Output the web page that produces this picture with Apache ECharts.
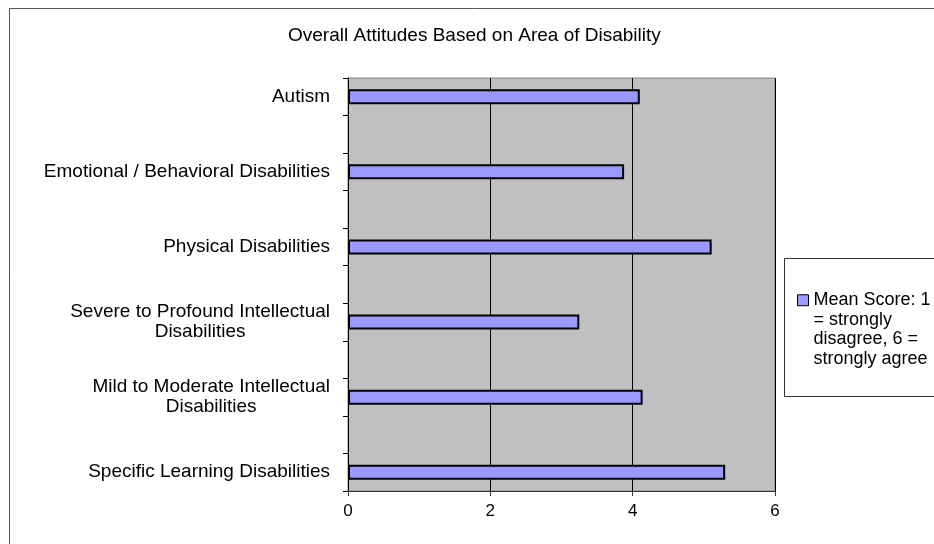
<!DOCTYPE html>
<html>
<head>
<meta charset="utf-8">
<script src="https://cdn.jsdelivr.net/npm/echarts@6/dist/echarts.min.js"></script>
<style>
  html, body { margin: 0; padding: 0; background: #fff; }
  #chart { width: 934px; height: 544px; }
</style>
</head>
<body>
<div id="chart"></div>
<script>
// categories, top to bottom; blank slots sit between the real ones like in the original
const categories = [
  'Autism', '',
  'Emotional / Behavioral Disabilities', '',
  'Physical Disabilities', '',
  'Severe to Profound Intellectual\nDisabilities', '',
  'Mild to Moderate Intellectual\nDisabilities', '',
  'Specific Learning Disabilities'
]
const meanScores = [4.1, null, 3.88, null, 5.11, null, 3.25, null, 4.14, null, 5.3]
const xTicks = [0, 2, 4, 6]
const seriesName = 'Mean Score: 1 = strongly disagree, 6 = strongly agree'
const legendLines = ['Mean Score: 1', '= strongly', 'disagree, 6 =', 'strongly agree']

const font = 'Liberation Sans, Arial, sans-serif'
const chart = echarts.init(document.getElementById('chart'))

const option = {
  animation: false,
  backgroundColor: '#fff',
  title: {
    text: 'Overall Attitudes Based on Area of Disability',
    left: 283,
    top: 21,
    textStyle: { fontFamily: font, fontSize: 19, fontWeight: 'normal', color: '#000' }
  },
  graphic: [
    {
      // outer chart frame
      type: 'rect',
      shape: { x: 9.5, y: 8.5, width: 1000, height: 1000 },
      style: { fill: 'none', stroke: '#555', lineWidth: 1 },
      silent: true
    },
    {
      // legend frame
      type: 'rect',
      shape: { x: 784.5, y: 258.5, width: 300, height: 138 },
      style: { fill: '#fff', stroke: '#333', lineWidth: 1 },
      z: 0,
      silent: true
    }
  ],
  legend: {
    left: 797,
    top: 232,
    padding: 0,
    z: 10,
    itemWidth: 11,
    itemHeight: 11,
    icon: 'rect',
    data: [{ name: seriesName, itemStyle: { color: '#9999FF', borderColor: '#000', borderWidth: 1 } }],
    // three blank lines keep the icon level with the first text line
    formatter: () => '\n\n\n' + legendLines.join('\n'),
    textStyle: {
      fontFamily: font,
      fontSize: 18,
      color: '#000',
      lineHeight: 19.5
    }
  },
  grid: {
    left: 348,
    top: 78,
    width: 427,
    height: 413,
    show: true,
    backgroundColor: '#C0C0C0',
    borderColor: '#808080',
    borderWidth: 1
  },
  xAxis: {
    type: 'value',
    min: 0,
    max: 6,
    interval: 2,
    axisLine: { show: true, lineStyle: { color: '#333', width: 1 } },
    axisTick: { show: true, length: 5, lineStyle: { color: '#333' } },
    axisLabel: {
      margin: 12,
      fontFamily: font,
      fontSize: 17,
      color: '#000',
      formatter: v => (xTicks.indexOf(v) >= 0 ? String(v) : '')
    },
    splitLine: { show: true, lineStyle: { color: '#000', width: 1 } }
  },
  yAxis: {
    type: 'category',
    inverse: true,
    data: categories,
    axisLine: { show: true, lineStyle: { color: '#000', width: 1 } },
    axisTick: { show: true, length: 5, interval: 0, lineStyle: { color: '#000' } },
    axisLabel: {
      interval: 0,
      margin: 18,
      fontFamily: font,
      fontSize: 19,
      color: '#000',
      formatter: v => v.split('\n').map(s => '{a|' + s + '}').join('\n'),
      rich: {
        a: { fontFamily: font, fontSize: 19, color: '#000', lineHeight: 20, align: 'center' }
      }
    },
    splitLine: { show: false }
  },
  series: [
    {
      name: seriesName,
      type: 'bar',
      data: meanScores,
      barWidth: 15,
      itemStyle: { color: '#9999FF', borderColor: '#000', borderWidth: 2 }
    }
  ]
}

chart.setOption(option)
window.addEventListener('resize', chart.resize)
</script>
</body>
</html>
